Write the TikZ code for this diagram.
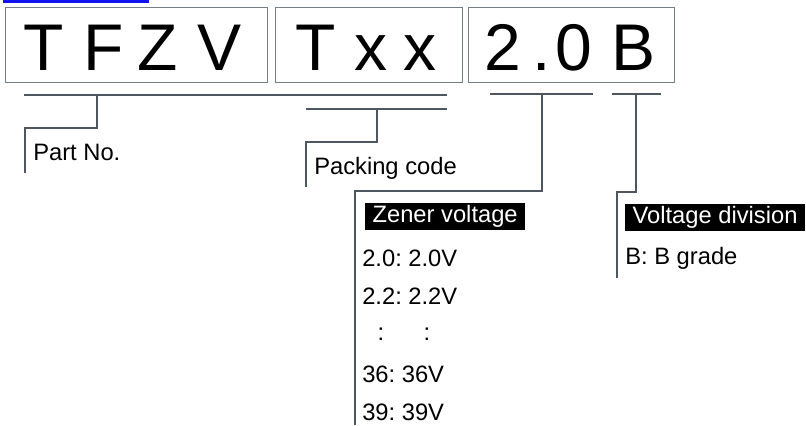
\documentclass[tikz,border=0pt]{standalone}
\usepackage{fontspec}
\setmainfont{Liberation Sans}
\frenchspacing
\definecolor{boxGray}{HTML}{767E85}
\definecolor{lineGray}{HTML}{4E5760}
\definecolor{linkBlue}{HTML}{1212EE}

\begin{document}
\begin{tikzpicture}[
        x=0.75pt, y=-0.75pt,
        fieldBox/.style={
            draw=boxGray, line width=0.75pt, inner sep=0pt,
            minimum height=56.25pt
        },
        bigChar/.style={
            inner sep=0pt, anchor=base,
            font=\fontsize{49.5}{50}\selectfont
        },
        bracket/.style={
            draw=lineGray, line width=1.5pt
        },
        tagNode/.style={
            fill=black, text=white, anchor=west, inner xsep=5.5pt, inner ysep=0pt,
            minimum height=20.25pt, font=\fontsize{17.8}{20}\selectfont
        },
        note/.style={
            inner sep=0pt, anchor=base west, font=\fontsize{17.8}{20}\selectfont
        }
    ]
        \useasboundingbox (0,0) rectangle (806,425);

        % Link bar
        \fill[linkBlue] (3,0) rectangle (149,3);

        % Code fields
        \node (partBox) [fieldBox, minimum width=196.5pt] at (136,44.5) {};
        \node (packBox) [fieldBox, minimum width=140.25pt] at (368.5,44.5) {};
        \node (voltBox) [fieldBox, minimum width=154.5pt] at (571,44.5) {};

        \foreach \cx/\ch in {44/T, 104/F, 158/Z, 220/V, 316/T, 371/x, 420/x, 503/2, 542/., 574/0, 634/B}
            \node (char\cx) [bigChar] at (\cx,70) {\ch};

        % Brackets under the fields
        \coordinate (partTap) at (97,95);
        \coordinate (packTap) at (377,109);
        \coordinate (zenerTap) at (542,94);
        \coordinate (gradeTap) at (636,94);
        \coordinate (partEnd) at (25,173);
        \coordinate (packEnd) at (306,187);
        \coordinate (zenerEnd) at (355,425);
        \coordinate (gradeEnd) at (617,278);

        \draw [bracket] (24,95) -- (447,95);
        \draw [bracket] (306,109) -- (447,109);
        \draw [bracket] (490,94) -- (593,94);
        \draw [bracket] (612,94) -- (661,94);

        \draw [bracket] (partTap) -- ++(0,33) -| (partEnd);
        \draw [bracket] (packTap) -- ++(0,33) -| (packEnd);
        \draw [bracket] (zenerTap) -- ++(0,97) -| (zenerEnd);
        \draw [bracket] (gradeTap) -- ++(0,98) -| (gradeEnd);

        % Labels
        \node (partLbl) [note] at (33,160) {Part No.};
        \node (packLbl) [note] at (314,174) {Packing code};

        \node (zenerTag) [tagNode] at (365,216.5) {Zener voltage};
        \foreach \ty/\txt [count=\i] in {266/2.0: 2.0V, 304/2.2: 2.2V, 382/36: 36V, 420/39: 39V}
            \node (zener\i) [note] at (362,\ty) {\txt};
        \node (dotsA) [note, anchor=base] at (381,340) {:};
        \node (dotsB) [note, anchor=base] at (427,340) {:};

        \node (gradeTag) [tagNode] at (625,217.5) {Voltage division};
        \node (gradeB) [note] at (625,264) {B: B grade};
    \end{tikzpicture}
\end{document}
